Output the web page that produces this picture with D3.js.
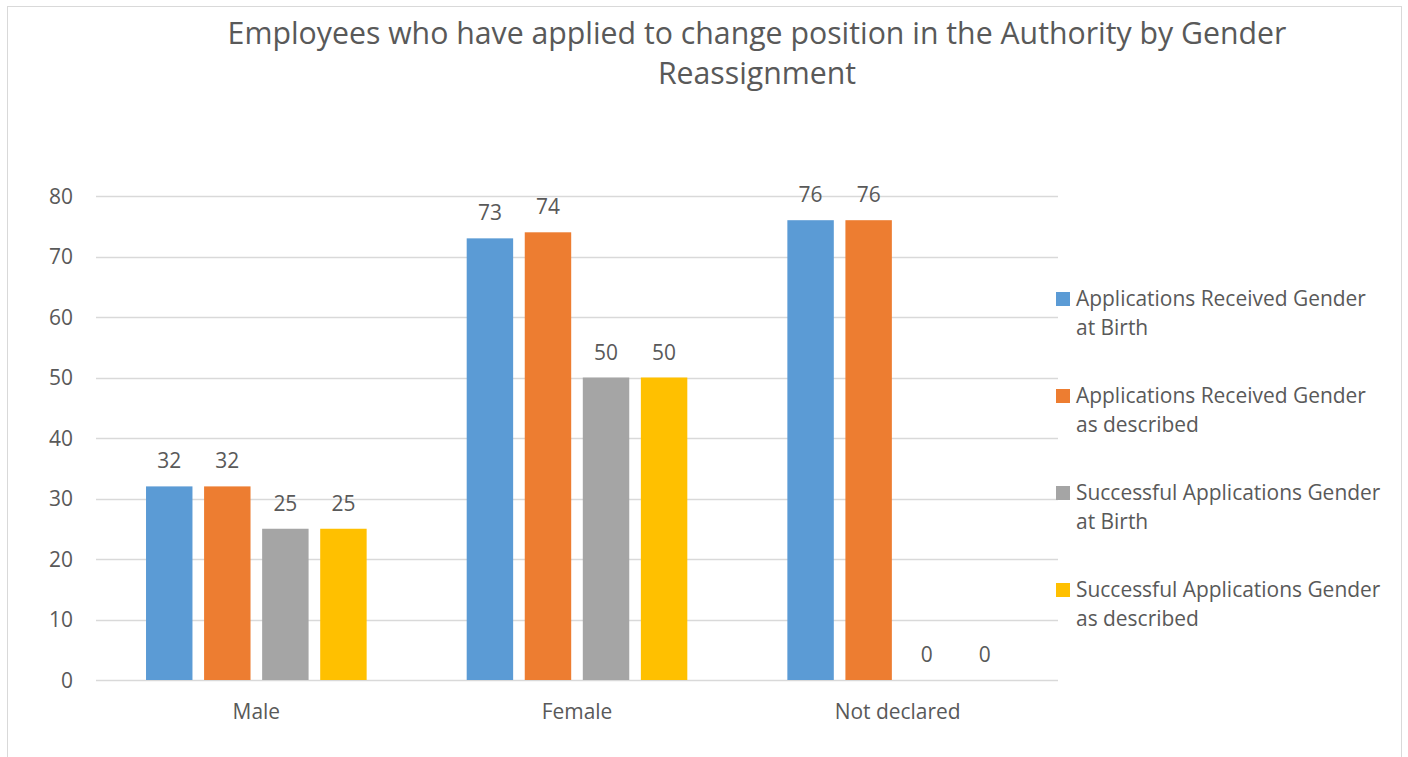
<!DOCTYPE html>
<html><head><meta charset="utf-8">
<script src="https://cdn.jsdelivr.net/npm/d3@7"></script>
<style>body{margin:0;background:#fff;} text{font-family:"Open Sans", sans-serif;fill:#595959;}</style>
</head><body>
<svg id="c" width="1408" height="757"></svg>
<script>
const categories = ["Male", "Female", "Not declared"];
const seriesNames = [
  "Applications Received Gender at Birth",
  "Applications Received Gender as described",
  "Successful Applications Gender at Birth",
  "Successful Applications Gender as described"
];
const seriesColors = ["#5b9bd5", "#ed7d31", "#a5a5a5", "#ffc000"];
const appliedBirth = [32, 73, 76];
const appliedDescribed = [32, 74, 76];
const successBirth = [25, 50, 0];
const successDescribed = [25, 50, 0];
const yTicks = [0, 10, 20, 30, 40, 50, 60, 70, 80];
const titleLines = ["Employees who have applied to change position in the Authority by Gender", "Reassignment"];
const legendLines = [["Applications Received Gender", "at Birth"], ["Applications Received Gender", "as described"], ["Successful Applications Gender", "at Birth"], ["Successful Applications Gender", "as described"]];

(function(){
const series = [appliedBirth, appliedDescribed, successBirth, successDescribed];
const svg = d3.select("#c");
svg.append("rect").attr("x", 7.5).attr("y", 6.5).attr("width", 1394).attr("height", 760)
  .attr("fill", "#fff").attr("stroke", "#d9d9d9").attr("stroke-width", 1);

function fitSize(str, target, base) {
  const t = svg.append("text").attr("font-size", base).text(str);
  const w = t.node().getComputedTextLength();
  t.remove();
  return base * target / w;
}
const fsTitle = fitSize(titleLines[0], 1059, 28);
const fs = fitSize(legendLines[0][0], 290, 18);

const pL = 96, pR = 1058, pT = 196, pB = 680;
const x = d3.scaleBand().domain(categories).range([pL, pR]).paddingInner(0.312).paddingOuter(0.156);
const xi = d3.scaleBand().domain(d3.range(4)).range([0, x.bandwidth()]).paddingInner(0.2).paddingOuter(0);
const y = d3.scaleLinear().domain([0, 80]).range([pB, pT]);

const g = svg.append("g");
g.selectAll("line").data(yTicks).join("line")
  .attr("x1", pL).attr("x2", pR)
  .attr("y1", d => Math.round(y(d)) + 0.5).attr("y2", d => Math.round(y(d)) + 0.5)
  .attr("stroke", "#d9d9d9").attr("stroke-width", 1.5);

const yAxis = d3.axisLeft(y).tickValues(yTicks).tickSize(0).tickPadding(0);
const ya = svg.append("g").attr("transform", `translate(73,0)`).call(yAxis);
ya.select(".domain").remove();
ya.selectAll("text").attr("font-size", fs).attr("fill", "#595959").attr("font-family", "Open Sans").attr("dy", "0.35em");

const xAxis = d3.axisBottom(x).tickSize(0).tickPadding(0);
const xa = svg.append("g").attr("transform", `translate(0,${pB + 24})`).call(xAxis);
xa.select(".domain").remove();
xa.selectAll("text").attr("font-size", fs).attr("fill", "#595959").attr("font-family", "Open Sans").attr("dy", "0.71em");

series.forEach((vals, si) => {
  const gs = svg.append("g");
  gs.selectAll("rect").data(vals).join("rect")
    .attr("x", (d, i) => x(categories[i]) + xi(si))
    .attr("width", xi.bandwidth())
    .attr("y", d => y(d))
    .attr("height", d => y(0) - y(d))
    .attr("fill", seriesColors[si]);
  gs.selectAll("text").data(vals).join("text")
    .attr("x", (d, i) => x(categories[i]) + xi(si) + xi.bandwidth() / 2)
    .attr("y", d => y(d) - 18)
    .attr("text-anchor", "middle").attr("font-size", fs)
    .text(d => d);
});

svg.append("text").attr("x", 757).attr("y", 44).attr("text-anchor", "middle").attr("font-size", fsTitle)
  .selectAll("tspan").data(titleLines).join("tspan")
  .attr("x", 757).attr("y", (d, i) => 44 + i * 40).text(d => d);

const lg = svg.append("g");
legendLines.forEach((lines, i) => {
  const yy = 299 + i * 97;
  lg.append("rect").attr("x", 1056).attr("y", yy - 7).attr("width", 14).attr("height", 14).attr("fill", seriesColors[i]);
  lg.append("text").attr("x", 1076).attr("y", yy + 7).attr("font-size", fs)
    .selectAll("tspan").data(lines).join("tspan").attr("x", 1076).attr("y", (d, j) => yy + 7 + j * 29).text(d => d);
});
})();
</script>
</body></html>
